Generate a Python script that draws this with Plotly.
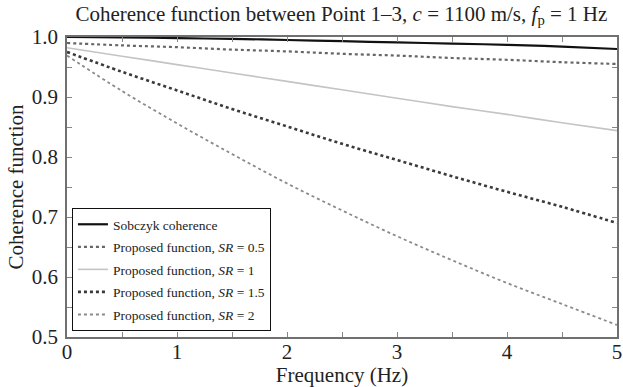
import plotly.graph_objects as go

# Frequency grid (Hz)
freq = [0.0, 0.5, 1.0, 1.5, 2.0, 2.5, 3.0, 3.5, 4.0, 4.5, 5.0]

# Coherence curves between Point 1 and Point 3
sobczyk = [1.000, 0.9995, 0.998, 0.997, 0.995, 0.993, 0.991, 0.989, 0.987, 0.984, 0.980]
sr_05 = [0.990, 0.986, 0.983, 0.979, 0.976, 0.972, 0.969, 0.965, 0.962, 0.958, 0.955]
sr_1 = [0.982, 0.968, 0.954, 0.940, 0.926, 0.912, 0.898, 0.884, 0.871, 0.857, 0.844]
sr_15 = [0.975, 0.942, 0.911, 0.880, 0.851, 0.822, 0.795, 0.768, 0.742, 0.717, 0.690]
sr_2 = [0.969, 0.910, 0.856, 0.805, 0.756, 0.711, 0.668, 0.628, 0.590, 0.555, 0.520]

series = [
    ("Sobczyk coherence", sobczyk, dict(color="#111111", width=2.2, dash="solid")),
    ("Proposed function, <i>SR</i> = 0.5", sr_05, dict(color="#666666", width=2.2, dash="dot")),
    ("Proposed function, <i>SR</i> = 1", sr_1, dict(color="#c4c4c4", width=1.6, dash="solid")),
    ("Proposed function, <i>SR</i> = 1.5", sr_15, dict(color="#3a3a3a", width=2.6, dash="dot")),
    ("Proposed function, <i>SR</i> = 2", sr_2, dict(color="#8a8a8a", width=1.8, dash="dot")),
]

fig = go.Figure()
for i, (name, vals, line) in enumerate(series):
    fig.add_trace(go.Scatter(
        x=freq, y=vals, name=name, mode="lines",
        line=dict(shape="spline", **line), legendgroup=f"g{i}",
    ))

serif = "Times New Roman, Liberation Serif, DejaVu Serif, serif"
axis_common = dict(
    showline=True, linecolor="#707070", linewidth=1.5, mirror="ticks",
    ticks="inside", ticklen=5, tickcolor="#888888", tickwidth=1,
    showgrid=False, zeroline=False, automargin=False,
    tickfont=dict(family=serif, size=21, color="#222222"),
)

fig.update_layout(
    width=623, height=387,
    margin=dict(l=67, r=6, t=37, b=50),
    paper_bgcolor="white", plot_bgcolor="white",
    font=dict(family=serif, color="#222222"),
    title=dict(
        text="Coherence function between Point 1\u20133, <i>c</i> = 1100 m/s, <i>f</i><sub>p</sub> = 1 Hz",
        x=0.548, xanchor="center", y=0.965, yanchor="middle",
        font=dict(family=serif, size=21, color="#222222"),
    ),
    xaxis=dict(
        range=[0, 5], tickvals=[0, 1, 2, 3, 4, 5], ticklabelstandoff=-5,
        minor=dict(ticks="inside", ticklen=5, tickcolor="#888888", dtick=0.5),
        title=dict(text="Frequency (Hz)", font=dict(family=serif, size=21), standoff=0),
        **axis_common,
    ),
    yaxis=dict(
        range=[0.5, 1.0], tickvals=[0.5, 0.6, 0.7, 0.8, 0.9, 1.0], tickformat=".1f",
        ticklabelstandoff=3,
        minor=dict(ticks="inside", ticklen=5, tickcolor="#888888", dtick=0.05),
        title=dict(text="Coherence function", font=dict(family=serif, size=21), standoff=2),
        **axis_common,
    ),
    legend=dict(
        x=0.009, y=0.02, xanchor="left", yanchor="bottom",
        bgcolor="white", bordercolor="#111111", borderwidth=1,
        font=dict(family=serif, size=13.5, color="#222222"),
        traceorder="grouped", tracegroupgap=2,
    ),
    showlegend=True,
)

fig.write_html("out.html")
